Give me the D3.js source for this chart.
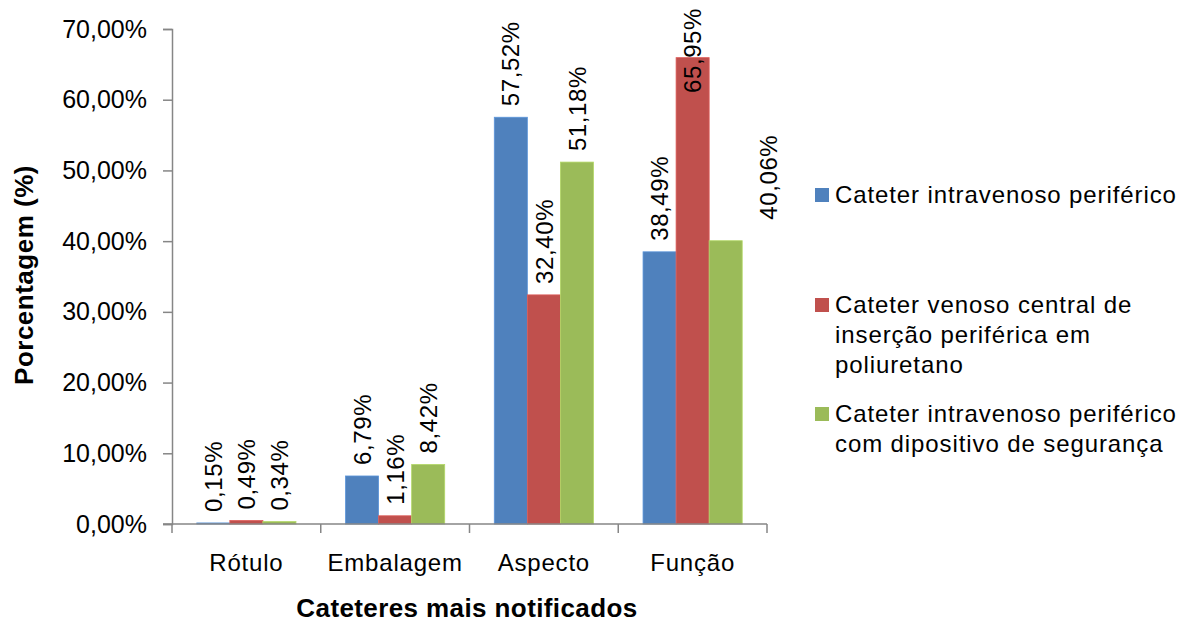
<!DOCTYPE html>
<html>
<head>
<meta charset="utf-8">
<script src="https://cdnjs.cloudflare.com/ajax/libs/d3/7.8.5/d3.min.js"></script>
<style>
  html, body { margin: 0; padding: 0; background: #fff; }
  svg { display: block; font-family: "Liberation Sans", Arial, sans-serif; }
</style>
</head>
<body>
<svg id="chart" width="1200" height="624"></svg>
<script>
// Categories and series (percent values)
const categories = ["Rótulo", "Embalagem", "Aspecto", "Função"];
const seriesNames = [
  "Cateter intravenoso periférico",
  "Cateter venoso central de inserção periférica em poliuretano",
  "Cateter intravenoso periférico com dipositivo de segurança"
];
const legendLines = [
  ["Cateter intravenoso periférico"],
  ["Cateter venoso central de", "inserção periférica em", "poliuretano"],
  ["Cateter intravenoso periférico", "com dipositivo de segurança"]
];
const periferico = [0.15, 6.79, 57.52, 38.49];
const picc = [0.49, 1.16, 32.40, 65.95];
const seguranca = [0.34, 8.42, 51.18, 40.06];
const yTicks = [0, 10, 20, 30, 40, 50, 60, 70];

const seriesValues = [periferico, picc, seguranca];
const colors = ["#4F81BD", "#C0504D", "#9BBB59"];

const svg = d3.select("#chart");
const plot = { left: 172, right: 767, top: 29, bottom: 524 };

const x = d3.scaleBand().domain(categories).range([plot.left, plot.right]).paddingInner(0).paddingOuter(0);
const inner = d3.scaleBand().domain(d3.range(3)).range([0, x.bandwidth()]).paddingInner(0).paddingOuter(0.75);
const y = d3.scaleLinear().domain([0, 70]).range([plot.bottom, plot.top]);

const fmt = v => d3.format(".2f")(v).replace(".", ",") + "%";

// Bars
const rows = [];
seriesValues.forEach((vals, s) => vals.forEach((v, i) => rows.push({ s, i, v })));

svg.append("g").selectAll("rect").data(rows).join("rect")
  .attr("x", d => x(categories[d.i]) + inner(d.s))
  .attr("width", inner.bandwidth())
  .attr("y", d => y(d.v))
  .attr("height", d => y(0) - y(d.v))
  .attr("fill", d => colors[d.s])
  .attr("stroke", d => d3.color(colors[d.s]).brighter(0.4))
  .attr("stroke-width", 0.8);

// Y axis
const yAxis = d3.axisLeft(y).tickValues(yTicks).tickSize(9).tickPadding(16)
  .tickFormat(v => d3.format(".2f")(v).replace(".", ",") + "%");
const gy = svg.append("g").attr("transform", `translate(${plot.left},0)`).call(yAxis);
gy.select(".domain").attr("stroke", "#868686").attr("stroke-width", 1.5);
gy.selectAll(".tick line").attr("stroke", "#868686").attr("stroke-width", 1.5);
gy.selectAll(".tick text").attr("font-size", 25).attr("fill", "#000")
  .attr("font-family", "Liberation Sans, Arial, sans-serif");

// X axis with ticks at band boundaries
const gx = svg.append("g").attr("transform", `translate(0,${plot.bottom})`);
gx.append("line").attr("x1", plot.left - 9).attr("x2", plot.right)
  .attr("stroke", "#868686").attr("stroke-width", 1.5);
const boundaries = categories.map(c => x(c)).concat([plot.right]);
gx.selectAll("line.tk").data(boundaries).join("line").attr("class", "tk")
  .attr("x1", d => d).attr("x2", d => d).attr("y1", 0).attr("y2", 9)
  .attr("stroke", "#868686").attr("stroke-width", 1.5);
gx.selectAll("text").data(categories).join("text")
  .attr("x", d => x(d) + x.bandwidth() / 2)
  .attr("y", 47)
  .attr("text-anchor", "middle")
  .attr("font-size", 24)
  .attr("letter-spacing", 0.8)
  .text(d => d);

// Value labels, rotated, placed above each bar; kept inside the chart top
const labelSize = 24;
const labelG = svg.append("g");
const labelOffsets = { "3-2": { dx: 43, dy: -10 } };
rows.forEach(d => {
  const cx = x(categories[d.i]) + inner(d.s) + inner.bandwidth() / 2;
  const t = labelG.append("text")
    .attr("font-size", labelSize)
    .attr("letter-spacing", 0.6)
    .attr("text-anchor", "start")
    .text(fmt(d.v));
  const len = t.node().getComputedTextLength();
  let base = y(d.v) - 11;
  if (base - len < 8) base = 8 + len;
  const off = labelOffsets[d.i + "-" + d.s] || { dx: 0, dy: 0 };
  base += off.dy;
  const px = cx + off.dx + labelSize * 0.36;
  t.attr("transform", `translate(${px},${base}) rotate(-90)`);
});

// Axis titles
svg.append("text")
  .attr("transform", `translate(33,275) rotate(-90)`)
  .attr("text-anchor", "middle")
  .attr("font-size", 26)
  .attr("letter-spacing", 0.5)
  .attr("font-weight", "bold")
  .text("Porcentagem (%)");

svg.append("text")
  .attr("x", 467).attr("y", 617)
  .attr("text-anchor", "middle")
  .attr("font-size", 26)
  .attr("letter-spacing", 0.4)
  .attr("font-weight", "bold")
  .text("Cateteres mais notificados");

// Legend
const legendBaselines = [[203], [313, 343, 373], [422, 452]];
const lg = svg.append("g");
legendLines.forEach((lines, s) => {
  lg.append("rect")
    .attr("x", 815).attr("y", legendBaselines[s][0] - 15)
    .attr("width", 14).attr("height", 14)
    .attr("fill", colors[s]);
  const t = lg.append("text").attr("font-size", 24).attr("letter-spacing", 0.9);
  lines.forEach((ln, k) => {
    t.append("tspan").attr("x", 835).attr("y", legendBaselines[s][k]).text(ln);
  });
  t.append("title").text(seriesNames[s]);
});
</script>
</body>
</html>
